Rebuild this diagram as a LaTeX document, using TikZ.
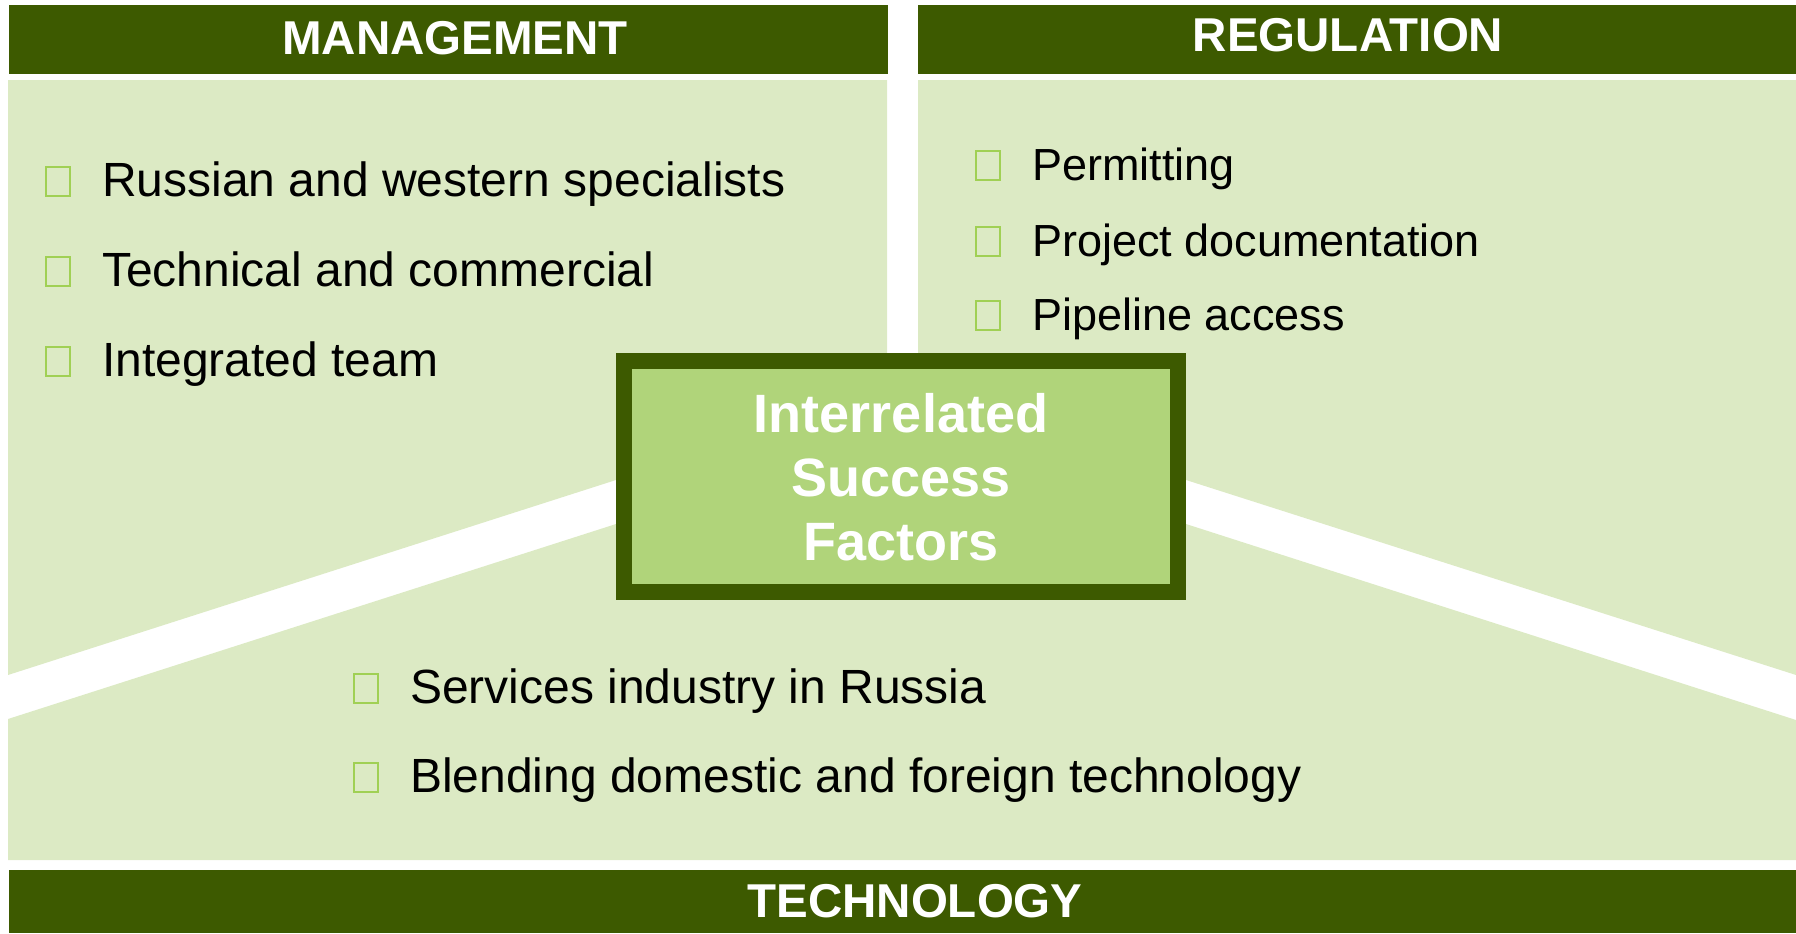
\documentclass[tikz,border=0pt]{standalone}
\usepackage{fontspec}
\setmainfont{Liberation Sans}
\definecolor{darkgreen}{RGB}{61,90,0}
\definecolor{palegreen}{RGB}{220,234,196}
\definecolor{midgreen}{RGB}{176,212,122}
\definecolor{bulletgreen}{RGB}{160,208,84}
\tikzset{
	x=1pt, y=-1pt,
	headtext/.style={text=white, anchor=base, inner sep=0pt, font=\fontsize{47.5}{57}\selectfont\bfseries},
	item/.style={anchor=base west, inner sep=0pt},
	core/.style={draw=darkgreen, line width=16pt, fill=midgreen, minimum width=554pt, minimum height=231pt,
		text=white, align=center, font=\fontsize{54}{64}\selectfont\bfseries}
}
% hollow green bullet box, then the text: [size]{name}{x}{baseline}{text}
\newcommand{\factoritem}[5][48]{
	\draw[bulletgreen, line width=1.5pt](#3, #4)rectangle++(24, -29);
	\node[item, font=\fontsize{#1}{#1}\selectfont](#2) at (#3+56, #4){#5};
}

\begin{document}
\begin{tikzpicture}
	\useasboundingbox (0, 0) rectangle (1796, 934);
	% the three panels
	\fill[palegreen](8, 80)--(887, 80)--(887, 480)--(616, 480)--(8, 675)--cycle;
	\fill[palegreen](918, 80)--(1796, 80)--(1796, 675)--(1186, 480)--(918, 480)--cycle;
	\fill[palegreen](8, 719)--(616, 524)--(1186, 524)--(1796, 720)--(1796, 860)--(8, 860)--cycle;
	% header bars
	\fill[darkgreen](9, 5) rectangle (888, 74);
	\fill[darkgreen](918, 5) rectangle (1796, 74);
	\fill[darkgreen](9, 870) rectangle (1796, 933);
	\node[headtext](mgmt) at (455, 55){MANAGEMENT};
	\node[headtext](reg) at (1348, 52){REGULATION};
	\node[headtext](tech) at (915, 917){TECHNOLOGY};
	% items
	\factoritem{spec}{46}{196}{Russian and western specialists}
	\factoritem{comm}{46}{286}{Technical and commercial}
	\factoritem{team}{46}{376}{Integrated team}
	\factoritem[45]{perm}{976}{180}{Permitting}
	\factoritem[45]{docs}{976}{256}{Project documentation}
	\factoritem[45]{pipe}{976}{330}{Pipeline access}
	\factoritem{serv}{354}{703}{Services industry in Russia}
	\factoritem{blend}{354}{792}{Blending domestic and foreign technology}
	% centre
	\node[core](isf) at (901, 476.7){Interrelated\\Success\\Factors};
\end{tikzpicture}
\end{document}
